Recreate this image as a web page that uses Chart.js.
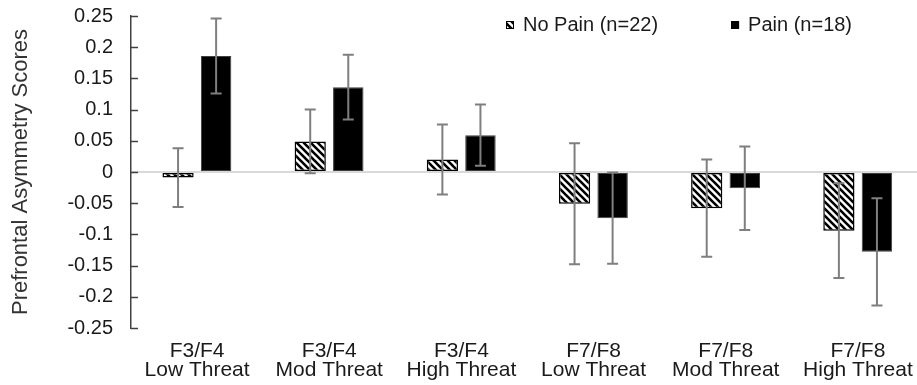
<!DOCTYPE html>
<html>
<head>
<meta charset="utf-8">
<script src="https://cdn.jsdelivr.net/npm/chart.js@4/dist/chart.umd.min.js"></script>
<style>
  html, body { margin: 0; padding: 0; background: #fff; overflow: hidden; width: 917px; height: 385px; }
  #wrap { position: relative; width: 925px; height: 385px; }
</style>
</head>
<body>
<div id="wrap"><canvas id="c" width="925" height="385"></canvas></div>
<script>
// Electrode pairs and threat conditions (two-line category labels)
const regions = ['F3/F4', 'F3/F4', 'F3/F4', 'F7/F8', 'F7/F8', 'F7/F8'];
const threats = ['Low Threat', 'Mod Threat', 'High Threat', 'Low Threat', 'Mod Threat', 'High Threat'];

// Group means and error (± half-length of the error bar)
const noPain    = [-0.009, 0.049, 0.020, -0.051, -0.058, -0.094];
const noPainErr = [ 0.047, 0.051, 0.056,  0.097,  0.078,  0.076];
const pain      = [ 0.186, 0.136, 0.059, -0.074, -0.026, -0.128];
const painErr   = [ 0.060, 0.052, 0.049,  0.073,  0.067,  0.086];

const seriesNames = ['No Pain (n=22)', 'Pain (n=18)'];
const yTickValues = [-0.25, -0.2, -0.15, -0.1, -0.05, 0, 0.05, 0.1, 0.15, 0.2, 0.25];
const yTickLabels = ['-0.25', '-0.2', '-0.15', '-0.1', '-0.05', '0', '0.05', '0.1', '0.15', '0.2', '0.25'];

const FONT = "'Liberation Sans', Arial, Helvetica, sans-serif";
const categories = regions.map((r, i) => [r, threats[i]]);

// Diagonal hatch fill used for the No Pain bars
function makeHatch() {
  const s = 7;
  const c = document.createElement('canvas');
  c.width = s; c.height = s;
  const g = c.getContext('2d');
  g.fillStyle = '#ffffff';
  g.fillRect(0, 0, s, s);
  g.strokeStyle = '#000000';
  g.lineWidth = 2.6;
  g.lineCap = 'square';
  for (const k of [-s, 0, s]) {
    g.beginPath();
    g.moveTo(k - 1, -1);
    g.lineTo(k + s + 1, s + 1);
    g.stroke();
  }
  return g.createPattern(c, 'repeat');
}
const hatch = makeHatch();

const errors = [noPainErr, painErr];

// Vertical error bars with caps, centred on each bar
const errorBars = {
  id: 'errorBars',
  afterDatasetsDraw(chart) {
    const ctx = chart.ctx;
    const y = chart.scales.y;
    ctx.save();
    ctx.strokeStyle = '#7f7f7f';
    ctx.lineWidth = 2;
    chart.data.datasets.forEach((ds, i) => {
      const meta = chart.getDatasetMeta(i);
      meta.data.forEach((bar, j) => {
        const v = ds.data[j], e = errors[i][j];
        const yTop = y.getPixelForValue(v + e);
        const yBot = y.getPixelForValue(v - e);
        const x = bar.x, cap = 5.5;
        ctx.beginPath();
        ctx.moveTo(x, yTop); ctx.lineTo(x, yBot);
        ctx.moveTo(x - cap, yTop); ctx.lineTo(x + cap, yTop);
        ctx.moveTo(x - cap, yBot); ctx.lineTo(x + cap, yBot);
        ctx.stroke();
      });
    });
    ctx.restore();
  }
};

// Short tick marks pointing into the plot from the value axis
const innerTicks = {
  id: 'innerTicks',
  afterDraw(chart) {
    const ctx = chart.ctx;
    const y = chart.scales.y;
    const x0 = chart.chartArea.left;
    ctx.save();
    ctx.strokeStyle = '#404040';
    ctx.lineWidth = 1.5;
    y.ticks.forEach(t => {
      const py = Math.round(y.getPixelForValue(t.value)) + 0.5;
      ctx.beginPath();
      ctx.moveTo(x0, py);
      ctx.lineTo(x0 + 7, py);
      ctx.stroke();
    });
    ctx.restore();
  }
};

// Legend inside the plot, top right
const insetLegend = {
  id: 'insetLegend',
  afterDraw(chart) {
    const ctx = chart.ctx;
    ctx.save();
    ctx.font = '20px ' + FONT;
    ctx.textBaseline = 'middle';
    const cy = 25;
    let x = 506;
    chart.data.datasets.forEach((ds, i) => {
      const box = 8;
      ctx.fillStyle = ds.backgroundColor;
      ctx.fillRect(x, cy - box / 2, box, box);
      ctx.strokeStyle = '#000';
      ctx.lineWidth = 1;
      ctx.strokeRect(x + 0.5, cy - box / 2 + 0.5, box - 1, box - 1);
      ctx.fillStyle = '#1a1a1a';
      const tx = x + box + 9;
      ctx.fillText(ds.label, tx, cy);
      x = tx + ctx.measureText(ds.label).width + 73;
    });
    ctx.restore();
  }
};

new Chart(document.getElementById('c'), {
  type: 'bar',
  data: {
    labels: categories,
    datasets: [
      {
        label: seriesNames[0],
        data: noPain,
        backgroundColor: hatch,
        borderColor: '#000000',
        borderWidth: 1.5,
        borderSkipped: false,
        categoryPercentage: 0.576,
        barPercentage: 0.82
      },
      {
        label: seriesNames[1],
        data: pain,
        backgroundColor: '#000000',
        borderColor: '#3f3f3f',
        borderWidth: 1,
        borderSkipped: false,
        categoryPercentage: 0.576,
        barPercentage: 0.8
      }
    ]
  },
  options: {
    responsive: false,
    animation: false,
    devicePixelRatio: 1,
    layout: { padding: { top: 16, right: 1, bottom: 0, left: 0 } },
    plugins: {
      legend: { display: false },
      tooltip: { enabled: false }
    },
    scales: {
      x: {
        grid: { display: false },
        border: { display: false },
        ticks: {
          color: '#1a1a1a',
          font: { family: FONT, size: 21, lineHeight: 0.93 },
          padding: 5,
          maxRotation: 0,
          autoSkip: false
        },
        afterFit(scale) { scale.height = 57; }
      },
      y: {
        min: -0.25,
        max: 0.25,
        afterBuildTicks(scale) { scale.ticks = yTickValues.map(v => ({ value: v })); },
        ticks: {
          color: '#1a1a1a',
          font: { family: FONT, size: 20 },
          padding: 2,
          callback(value) {
            const k = yTickValues.findIndex(v => Math.abs(v - value) < 1e-9);
            return k >= 0 ? yTickLabels[k] : '';
          }
        },
        grid: {
          drawTicks: true,
          tickLength: 16,
          tickColor: 'rgba(0,0,0,0)',
          lineWidth: 2,
          color(ctx) { return ctx.tick && Math.abs(ctx.tick.value) < 1e-9 ? '#d9d9d9' : 'rgba(0,0,0,0)'; }
        },
        border: { display: true, color: '#404040', width: 1.5 },
        title: {
          display: true,
          text: 'Prefrontal Asymmetry Scores',
          color: '#333333',
          font: { family: FONT, size: 22 },
          padding: { top: 8, bottom: 0 }
        },
        afterFit(scale) { scale.width = 131; }
      }
    }
  },
  plugins: [errorBars, innerTicks, insetLegend]
});
</script>
</body>
</html>
